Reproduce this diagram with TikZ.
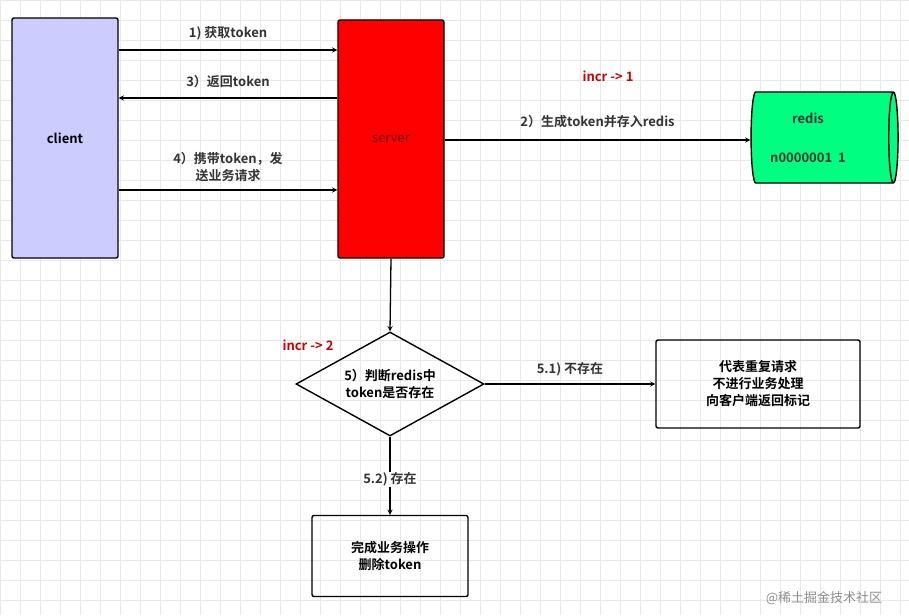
\documentclass[tikz,border=0pt]{standalone}
\usepackage{fontspec}
\setmainfont{Noto Sans CJK SC}[BoldFont={Noto Sans CJK SC Bold}]
\usetikzlibrary{shapes.geometric}
\definecolor{lilac}{HTML}{CCCCFF}
\definecolor{mint}{HTML}{00FF80}
\definecolor{incred}{HTML}{CC0000}
\newcommand{\txt}{\fontsize{13}{17}\selectfont\bfseries}
\tikzset{
  box/.style={draw, line width=1.4pt, rounded corners=2pt, align=center, font=\txt},
  flow/.style={->, >=stealth, line width=1.3pt},
  lbl/.style={font=\txt, align=center, text=black!80},
  cnt/.style={font=\txt, text=incred}
}
\begin{document}
\begin{tikzpicture}[x=1pt, y=-1pt]
  \useasboundingbox (0,0) rectangle (909,615);
  % grid in the background
  \foreach \gx in {0,20,...,900} \draw[black!9, line width=0.4pt] (\gx,0) -- (\gx,615);
  \foreach \gy in {0,20,...,600} \draw[black!9, line width=0.4pt] (0,\gy) -- (909,\gy);

  % client and server
  \node[box, fill=lilac, minimum width=106, minimum height=240] (client) at (65,138) {client};
  \node[box, fill=red, minimum width=106, minimum height=238, font=\fontsize{13}{17}\selectfont, text=red!40!black] (server) at (391,139) {server};

  % redis
  \node[draw, line width=1.4pt, cylinder, fill=mint, minimum width=91, minimum height=147,
        aspect=1.4, shape border rotate=0] (redis) at (821,137.5) {};
  \node[lbl] (rname) at (808,118) {redis};
  \node[lbl] (rval) at (808,158) {n0000001\ \ 1};

  % decision and outcomes
  \node[draw, line width=1.4pt, diamond, aspect=1.8, minimum width=188, minimum height=104,
        align=center, font=\txt, inner sep=0pt] (check) at (390,384) {5）判断redis中\\token是否存在};
  \node[box, minimum width=204, minimum height=88] (repeat) at (758,384) {代表重复请求\\不进行业务处理\\向客户端返回标记};
  \node[box, minimum width=156, minimum height=81] (done) at (390,556) {完成业务操作\\删除token};

  % requests between client and server
  \draw[flow] (client.east |- 0,50) -- node[lbl, above=6pt] {1) 获取token} (server.west |- 0,50);
  \draw[flow] (server.west |- 0,98) -- node[lbl, above=6pt] {3）返回token} (client.east |- 0,98);
  \draw[flow] (client.east |- 0,190) -- node[lbl, above=4pt] {4）携带token，发\\送业务请求} (server.west |- 0,190);

  % token stored in redis
  \draw[flow] (server.east |- 0,140) -- node[lbl, above=8pt] {2）生成token并存入redis} (redis.west |- 0,140);
  \node[cnt] (inc1) at (608,76) {incr -> 1};

  % checking the token
  \draw[flow] (server.south) -- (check.north);
  \node[cnt] (inc2) at (308,345) {incr -> 2};
  \draw[flow] (check.east) -- node[lbl, above=4pt] {5.1) 不存在} (repeat.west);
  \draw[flow] (check.south) -- node[lbl, pos=0.55, fill=white, inner sep=1pt] {5.2) 存在} (done.north);

  \node[text=black!45, font=\fontsize{13}{16}\selectfont] (mark) at (824,598) {@稀土掘金技术社区};
\end{tikzpicture}
\end{document}
